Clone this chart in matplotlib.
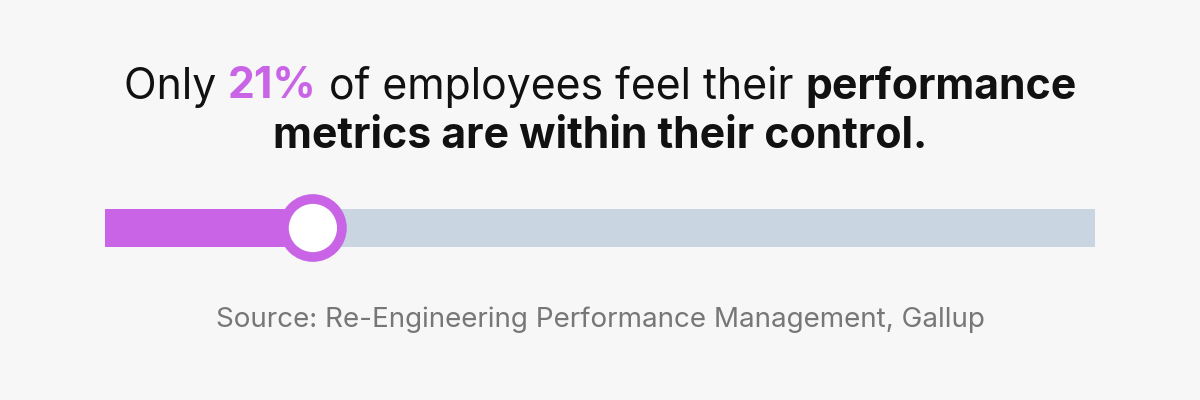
import matplotlib
matplotlib.use("Agg")
import matplotlib.pyplot as plt
from matplotlib.patches import Circle

value = 21
total = 100
line1 = [("Only ", "normal", "#111111"), ("21%", "bold", "#C964E6"),
         (" of employees feel their ", "normal", "#111111"), ("performance", "bold", "#111111")]
line2 = [("metrics are within their control.", "bold", "#111111")]
source = "Source: Re-Engineering Performance Management, Gallup"

purple = "#C964E6"
track = "#C9D5E0"
bg = "#F7F7F7"

fig = plt.figure(figsize=(12, 4), dpi=100, facecolor=bg)
ax = fig.add_axes([0, 0, 1, 1])
ax.set_facecolor(bg)
ax.set_xlim(0, 1200)
ax.set_ylim(400, 0)
ax.axis("off")

x0, x1 = 105, 1095
scale = (x1 - x0) / total
ax.barh([228], [total * scale], left=x0, height=38, color=track, zorder=1)
ax.barh([228], [value * scale], left=x0, height=38, color=purple, zorder=2)
cx = x0 + value * scale
ax.add_patch(Circle((cx, 228), 29, facecolor="white", edgecolor=purple, lw=7, zorder=3))

fig.canvas.draw()
r = fig.canvas.get_renderer()

def draw_line(parts, y, size=30.8):
    texts = [ax.text(0, y, s, fontsize=size, fontweight=w, color=c, family="Inter",
                     va="center", ha="left") for s, w, c in parts]
    widths = [t.get_window_extent(r).width for t in texts]
    x = 600 - sum(widths) / 2
    for t, w in zip(texts, widths):
        t.set_x(x)
        x += w

draw_line(line1, 87)
draw_line(line2, 137)
ax.text(600, 320, source, fontsize=20, color="#777777", family="Inter", ha="center", va="center")

fig.savefig("out.png", dpi=100, facecolor=bg)
